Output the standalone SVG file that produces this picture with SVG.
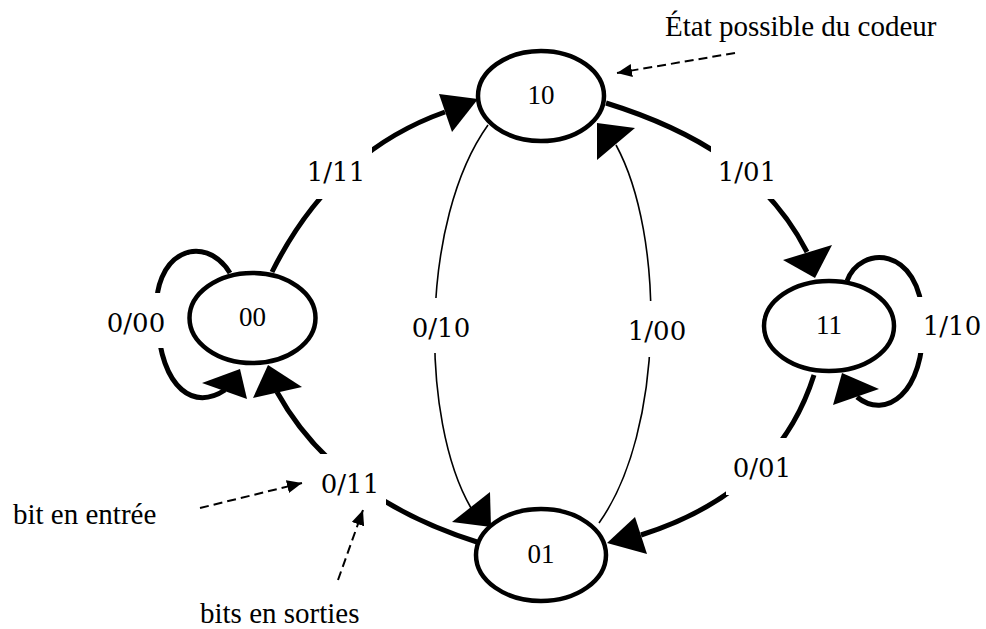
<svg xmlns="http://www.w3.org/2000/svg" width="986" height="629" viewBox="0 0 986 629">
  <style>
    .state { fill: #fff; stroke: #000; stroke-width: 4.5; }
    .state-text { font-family: "Liberation Serif", "Times New Roman", serif; font-size: 27px; fill: #000; text-anchor: middle; }
    .edge { fill: none; stroke: #000; stroke-width: 5; }
    .edge-thin { fill: none; stroke: #000; stroke-width: 1.6; }
    .head { fill: #000; stroke: none; }
    .lbl-box { fill: #fff; stroke: none; }
    .lbl { font-family: "DejaVu Serif", "Liberation Serif", serif; font-size: 26px; fill: #000; text-anchor: middle; }
    .note { font-family: "Liberation Serif", "Times New Roman", serif; font-size: 29px; fill: #000; }
    .pointer { fill: none; stroke: #000; stroke-width: 2; stroke-dasharray: 9 5; }
  </style>
  <defs>
    <marker id="tip" markerWidth="15" markerHeight="13" refX="15" refY="6.5" orient="auto" markerUnits="userSpaceOnUse">
      <path d="M0,0 L15,6.5 L0,13 z" fill="#000"/>
    </marker>
  </defs>

  <rect width="986" height="629" fill="#fff"/>

  <!-- transitions -->
  <g id="connectors">
    <!-- 00 -> 10 : 1/11 -->
    <path class="edge" d="M272,272 Q332,152 445,112"/>
    <polygon class="head" points="439,94 452,132 478,99"/>
    <!-- 10 -> 11 : 1/01 -->
    <path class="edge" d="M606,103 C693,130 766,172 807,252"/>
    <polygon class="head" points="783,260 832,245 815,278"/>
    <!-- 11 -> 11 : 1/10 -->
    <path class="edge" d="M847,281 C860,245 920,245 923,320 C925,395 885,420 857,397"/>
    <polygon class="head" points="842,373 833,405 879,389"/>
    <!-- 11 -> 01 : 0/01 -->
    <path class="edge" d="M814,375 Q777,492 641,535"/>
    <polygon class="head" points="607,543 635,517 647,554"/>
    <!-- 01 -> 00 : 0/11 -->
    <path class="edge" d="M477,542 Q335,497 277,392"/>
    <polygon class="head" points="253,398 268,365 302,387"/>
    <!-- 00 -> 00 : 0/00 -->
    <path class="edge" d="M230,273 C205,232 150,250 157,320 C162,392 195,410 225,390"/>
    <polygon class="head" points="202,383 240,369 247,399"/>
    <!-- 10 -> 01 : 0/10 -->
    <path class="edge-thin" d="M488,125 C420,220 420,420 471,508"/>
    <polygon class="head" points="452,522 490,492 491,527"/>
    <!-- 01 -> 10 : 1/00 -->
    <path class="edge-thin" d="M599,523 C665,430 665,235 616,145"/>
    <polygon class="head" points="597,123 635,128 597,160"/>
  </g>

  <!-- transition labels (input bit / output bits) -->
  <g id="edge-labels">
    <rect class="lbl-box" x="300" y="145" width="72" height="54"/>
    <text class="lbl" x="336" y="181">1/11</text>
    <rect class="lbl-box" x="711" y="144" width="74" height="55"/>
    <text class="lbl" x="747" y="181">1/01</text>
    <rect class="lbl-box" x="405" y="298" width="72" height="55"/>
    <text class="lbl" x="441" y="337">0/10</text>
    <rect class="lbl-box" x="621" y="301" width="72" height="56"/>
    <text class="lbl" x="657" y="340">1/00</text>
    <rect class="lbl-box" x="100" y="293" width="72" height="55"/>
    <text class="lbl" x="136" y="332">0/00</text>
    <rect class="lbl-box" x="916" y="297" width="70" height="56"/>
    <text class="lbl" x="952" y="335">1/10</text>
    <rect class="lbl-box" x="726" y="438" width="72" height="57"/>
    <text class="lbl" x="762" y="477">0/01</text>
    <rect class="lbl-box" x="314" y="454" width="72" height="57"/>
    <text class="lbl" x="350" y="493">0/11</text>
  </g>

  <!-- encoder states -->
  <g id="state-00">
    <ellipse class="state" cx="252.5" cy="318" rx="63" ry="45"/>
    <text class="state-text" x="252.5" y="326">00</text>
  </g>
  <g id="state-10">
    <ellipse class="state" cx="541" cy="96" rx="63" ry="45"/>
    <text class="state-text" x="541" y="104">10</text>
  </g>
  <g id="state-11">
    <ellipse class="state" cx="829" cy="326" rx="65" ry="45"/>
    <text class="state-text" x="829" y="334">11</text>
  </g>
  <g id="state-01">
    <ellipse class="state" cx="541" cy="555" rx="65" ry="46"/>
    <text class="state-text" x="541" y="563">01</text>
  </g>

  <!-- annotations -->
  <g id="annotations">
    <text class="note" x="665" y="36">État possible du codeur</text>
    <path class="pointer" d="M735,53 L617,73" marker-end="url(#tip)"/>
    <text class="note" x="13" y="524">bit en entrée</text>
    <path class="pointer" d="M200,508 L302,483" marker-end="url(#tip)"/>
    <text class="note" x="200" y="623">bits en sorties</text>
    <path class="pointer" d="M338,580 L363,510" marker-end="url(#tip)"/>
  </g>
</svg>
